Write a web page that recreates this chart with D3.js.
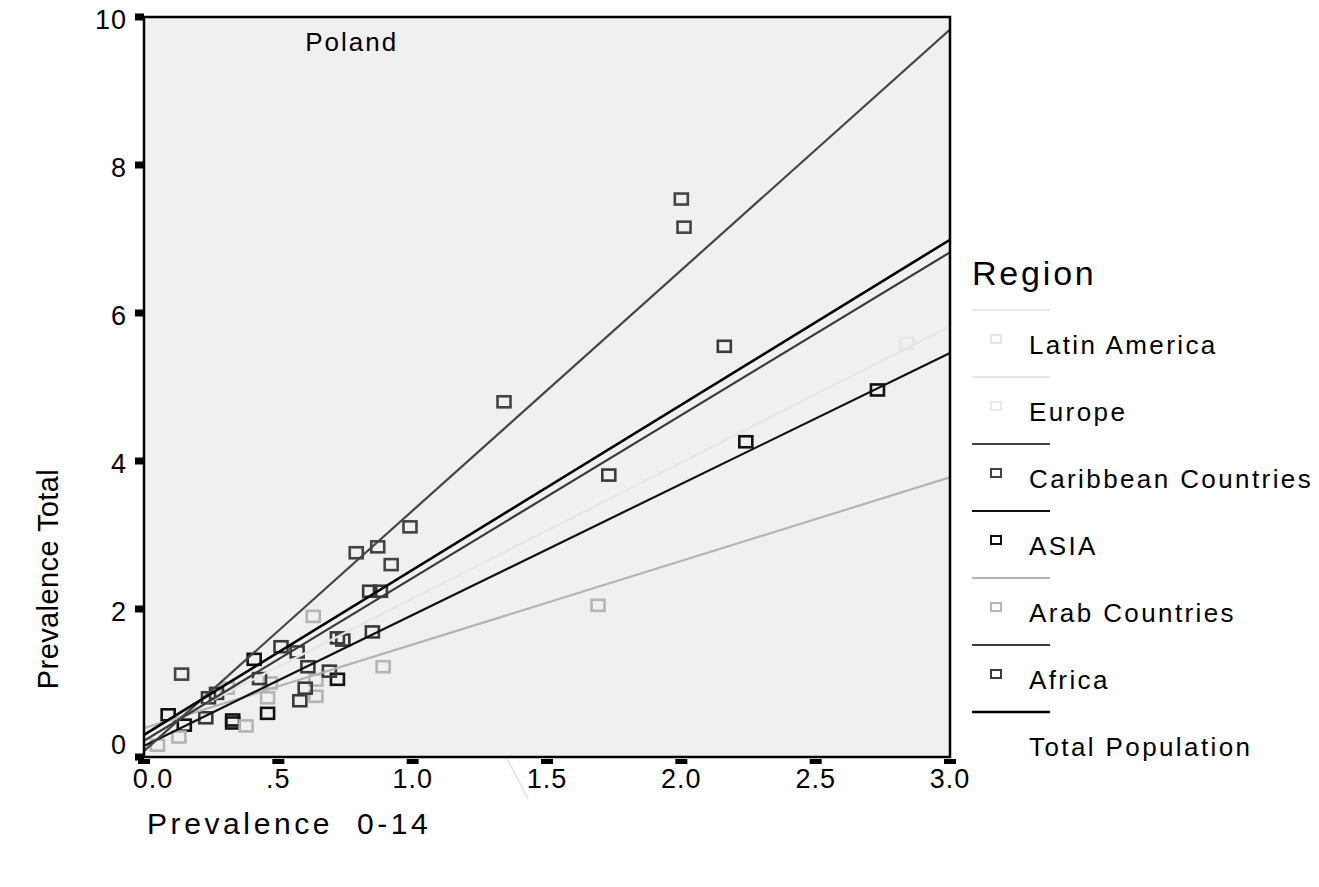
<!DOCTYPE html>
<html>
<head>
<meta charset="utf-8">
<script src="https://cdn.jsdelivr.net/npm/d3@7"></script>
<style>
  body { margin: 0; background: #fff; }
  text { font-family: "Liberation Sans", Arial, sans-serif; fill: #000; }
</style>
</head>
<body>
<svg width="1319" height="887"></svg>
<script>
// Region names, legend order
const regions = ["Latin America", "Europe", "Caribbean Countries", "ASIA", "Arab Countries", "Africa", "Total Population"];
const regionColors = ["#e6e6e6", "#e6e6e6", "#444444", "#111111", "#b4b4b4", "#3a3a3a", "#000000"];

// Points, [prevalence 0-14, prevalence total]
const latinPts = [];
const europePts = [[2.84, 5.59]];
const caribbeanPts = [[2.00, 7.54], [2.01, 7.16], [1.34, 4.80], [0.99, 3.11], [0.87, 2.84], [0.79, 2.76], [0.92, 2.60], [0.14, 1.12]];
const asiaPts = [[2.24, 4.26], [2.73, 4.96], [0.72, 1.05], [0.41, 1.32], [0.09, 0.57], [0.33, 0.50], [0.33, 0.46], [0.46, 0.59], [0.15, 0.43]];
const arabPts = [[1.69, 2.05], [0.63, 1.90], [0.89, 1.22], [0.64, 1.04], [0.47, 1.00], [0.46, 0.80], [0.64, 0.82], [0.31, 0.93], [0.38, 0.42], [0.13, 0.27], [0.05, 0.16]];
const africaPts = [[2.16, 5.55], [1.73, 3.81], [0.84, 2.24], [0.88, 2.24], [0.51, 1.49], [0.57, 1.42], [0.85, 1.69], [0.72, 1.61], [0.74, 1.58], [0.61, 1.22], [0.69, 1.16], [0.43, 1.06], [0.60, 0.93], [0.58, 0.76], [0.27, 0.86], [0.24, 0.80], [0.23, 0.53]];

// Fit lines per region (same order as regions)
const fitIntercept = [9.30, 0.30, 0.08, 0.15, 0.39, 0.22, 0.30];
const fitSlope = [-6.90, 1.84, 3.25, 1.77, 1.13, 2.20, 2.23];
const fitXMax = [1.43, 3, 3, 3, 3, 3, 3];

const xTicks = [0, 0.5, 1, 1.5, 2, 2.5, 3];
const xTickLabels = ["0.0", ".5", "1.0", "1.5", "2.0", "2.5", "3.0"];
const yTicks = [0, 2, 4, 6, 8, 10];

const svg = d3.select("svg");
const x = d3.scaleLinear().domain([0, 3]).range([144, 950]);
const y = d3.scaleLinear().domain([0, 10]).range([757, 17]);

// plot background
svg.append("rect")
  .attr("x", x(0)).attr("y", y(10))
  .attr("width", x(3) - x(0)).attr("height", y(0) - y(10))
  .attr("fill", "#f0f0f0");

svg.append("defs").append("clipPath").attr("id", "plotclip")
  .append("rect")
  .attr("x", x(0)).attr("y", y(10))
  .attr("width", x(3) - x(0)).attr("height", y(0) - y(10));

// Latin America fit line: only the part that runs out below the axis shows
const latinX0 = -fitIntercept[0] / fitSlope[0];
svg.append("line")
  .attr("x1", x(latinX0)).attr("y1", y(0))
  .attr("x2", x(fitXMax[0])).attr("y2", y(fitIntercept[0] + fitSlope[0] * fitXMax[0]))
  .attr("stroke", "#e2e2e2").attr("stroke-width", 1.5);

// points
const allPts = [latinPts, europePts, caribbeanPts, asiaPts, arabPts, africaPts];
const pg = svg.append("g").attr("clip-path", "url(#plotclip)");
allPts.forEach((pts, i) => {
  pg.selectAll(null)
    .data(pts)
    .enter().append("rect")
      .attr("x", d => x(d[0]) - 6.5)
      .attr("y", d => y(d[1]) - 5.5)
      .attr("width", 13).attr("height", 11)
      .attr("fill", "none")
      .attr("stroke", regionColors[i])
      .attr("stroke-width", 2.6);
});

// fit lines
const lg = svg.append("g").attr("clip-path", "url(#plotclip)");
const drawOrder = [1, 4, 5, 3, 2, 6];
drawOrder.forEach(i => {
  lg.append("line")
    .attr("x1", x(0)).attr("y1", y(fitIntercept[i]))
    .attr("x2", x(fitXMax[i])).attr("y2", y(fitIntercept[i] + fitSlope[i] * fitXMax[i]))
    .attr("stroke", regionColors[i])
    .attr("stroke-width", i === 6 ? 2.6 : 2.2);
});

// frame
svg.append("rect")
  .attr("x", x(0)).attr("y", y(10))
  .attr("width", x(3) - x(0)).attr("height", y(0) - y(10))
  .attr("fill", "none").attr("stroke", "#000").attr("stroke-width", 2.5);

// y ticks
svg.selectAll(".ytick")
  .data(yTicks)
  .enter().append("rect")
    .attr("x", x(0) - 9).attr("y", d => y(d) - 3.5)
    .attr("width", 9).attr("height", 7)
    .attr("fill", "#000");
svg.selectAll(".ylab")
  .data(yTicks)
  .enter().append("text")
    .attr("x", 127)
    .attr("y", d => d === 0 ? y(d) - 12 : y(d) + 3)
    .attr("dy", "0.35em")
    .attr("text-anchor", "end")
    .style("font-size", "27px")
    .style("letter-spacing", "1px")
    .text(d => d);

// x ticks
svg.selectAll(".xtick")
  .data(xTicks)
  .enter().append("rect")
    .attr("x", d => x(d) - 6).attr("y", y(0) + 2)
    .attr("width", 12).attr("height", 5)
    .attr("fill", "#000");
svg.selectAll(".xlab")
  .data(xTicks)
  .enter().append("text")
    .attr("x", d => d === 0 ? x(d) + 9 : x(d))
    .attr("y", 779)
    .attr("dy", "0.35em")
    .attr("text-anchor", "middle")
    .style("font-size", "27px")
    .style("letter-spacing", "1px")
    .text((d, i) => xTickLabels[i]);

// plot label
svg.append("text")
  .attr("x", x(0.6)).attr("y", 51)
  .style("font-size", "26px").style("letter-spacing", "2px")
  .text("Poland");

// axis titles
svg.append("text")
  .attr("transform", "translate(58,579) rotate(-90)")
  .attr("text-anchor", "middle")
  .style("font-size", "29px").style("letter-spacing", "0.4px")
  .text("Prevalence Total");
svg.append("text")
  .attr("x", 147).attr("y", 834)
  .attr("xml:space", "preserve")
  .style("white-space", "pre")
  .style("font-size", "30px").style("letter-spacing", "3.6px")
  .text("Prevalence  0-14");

// legend
const leg = svg.append("g");
leg.append("text")
  .attr("x", 972).attr("y", 285)
  .style("font-size", "34px").style("letter-spacing", "2.8px")
  .text("Region");
regions.forEach((r, i) => {
  const top = 310 + i * 67;
  leg.append("line")
    .attr("x1", 972).attr("x2", 1050)
    .attr("y1", top).attr("y2", top)
    .attr("stroke", regionColors[i]).attr("stroke-width", i === 6 ? 2.6 : 2.2);
  if (i < 6) {
    leg.append("rect")
      .attr("x", 991).attr("y", top + 25)
      .attr("width", 10).attr("height", 8)
      .attr("fill", "none").attr("stroke", regionColors[i]).attr("stroke-width", 2);
  }
  leg.append("text")
    .attr("x", 1029).attr("y", top + 44)
    .style("font-size", "26px").style("letter-spacing", "2.4px")
    .text(r);
});
</script>
</body>
</html>
